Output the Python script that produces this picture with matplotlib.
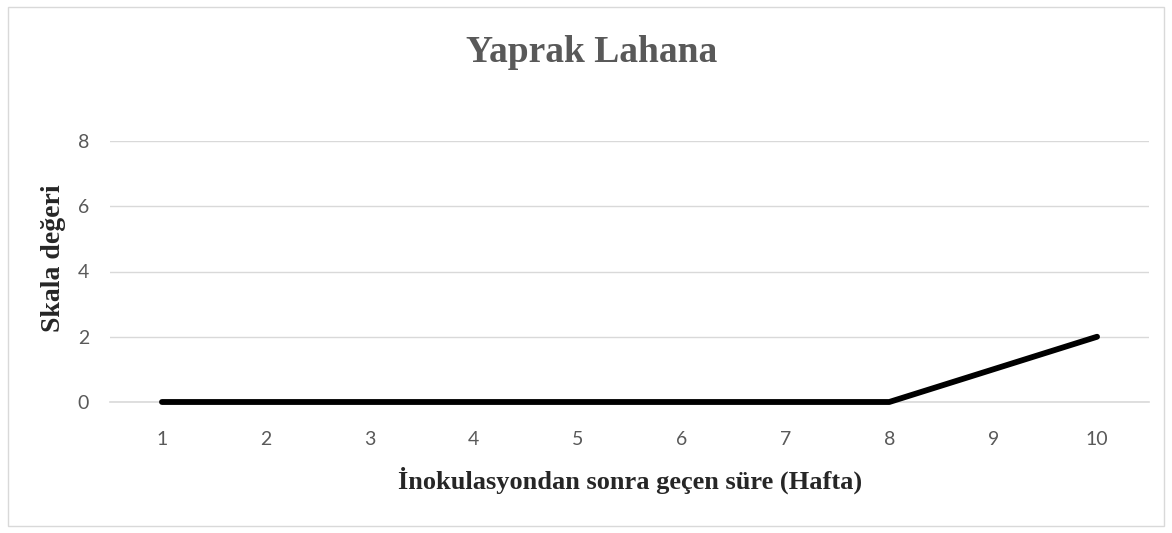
import matplotlib
matplotlib.use("Agg")
import matplotlib.pyplot as plt
from matplotlib.patches import Rectangle

weeks = [1, 2, 3, 4, 5, 6, 7, 8, 9, 10]
scale_values = [0, 0, 0, 0, 0, 0, 0, 0, 1, 2]
y_ticks = [0, 2, 4, 6, 8]

GRAY_TXT = "#595959"
GRID = "#d9d9d9"
W, H = 1172, 533

fig = plt.figure(figsize=(W / 100, H / 100), dpi=100, facecolor="white")
ax = fig.add_axes([110 / W, 131 / H, 1039 / W, 261 / H])

ax.plot(weeks, scale_values, color="black", lw=4.2, solid_capstyle="round",
        solid_joinstyle="round", zorder=5, clip_on=False)

ax.set_xlim(weeks[0] - 0.5, weeks[-1] + 0.5)
ax.set_ylim(0, 8)
ax.set_xticks(weeks)
ax.set_yticks(y_ticks)
ax.yaxis.grid(True, color=GRID, lw=1.0)
ax.set_axisbelow(True)
for sp in ax.spines.values():
    sp.set_visible(False)
ax.axhline(0, color=GRID, lw=1.2, zorder=1, clip_on=False)

ax.tick_params(axis="both", length=0, labelcolor=GRAY_TXT, labelsize=14)
ax.tick_params(axis="x", pad=21)
ax.tick_params(axis="y", pad=15)
for lab in ax.get_xticklabels() + ax.get_yticklabels():
    lab.set_family("Lato")

# axis titles (serif bold, as in the source)
fig.text(630 / W, 1 - 480 / H, "İnokulasyondan sonra geçen süre (Hafta)",
         family="Liberation Serif", fontweight="bold", fontsize=19,
         color="#262626", ha="center", va="center")
fig.text(54 / W, 1 - 258 / H, "Skala değeri", family="Liberation Serif",
         fontweight="bold", fontsize=20, color="#262626", rotation=90,
         ha="center", va="center")

fig.text(592 / W, 1 - 62 / H, "Yaprak Lahana", family="Liberation Serif",
         fontweight="bold", fontsize=27, color=GRAY_TXT, ha="center",
         va="baseline")

fig.patches.append(Rectangle((8 / W, 7 / H), 1156 / W, 519 / H,
                             transform=fig.transFigure, fill=False,
                             edgecolor=GRID, lw=1.0))

fig.savefig("out.png", dpi=100, facecolor="white")
